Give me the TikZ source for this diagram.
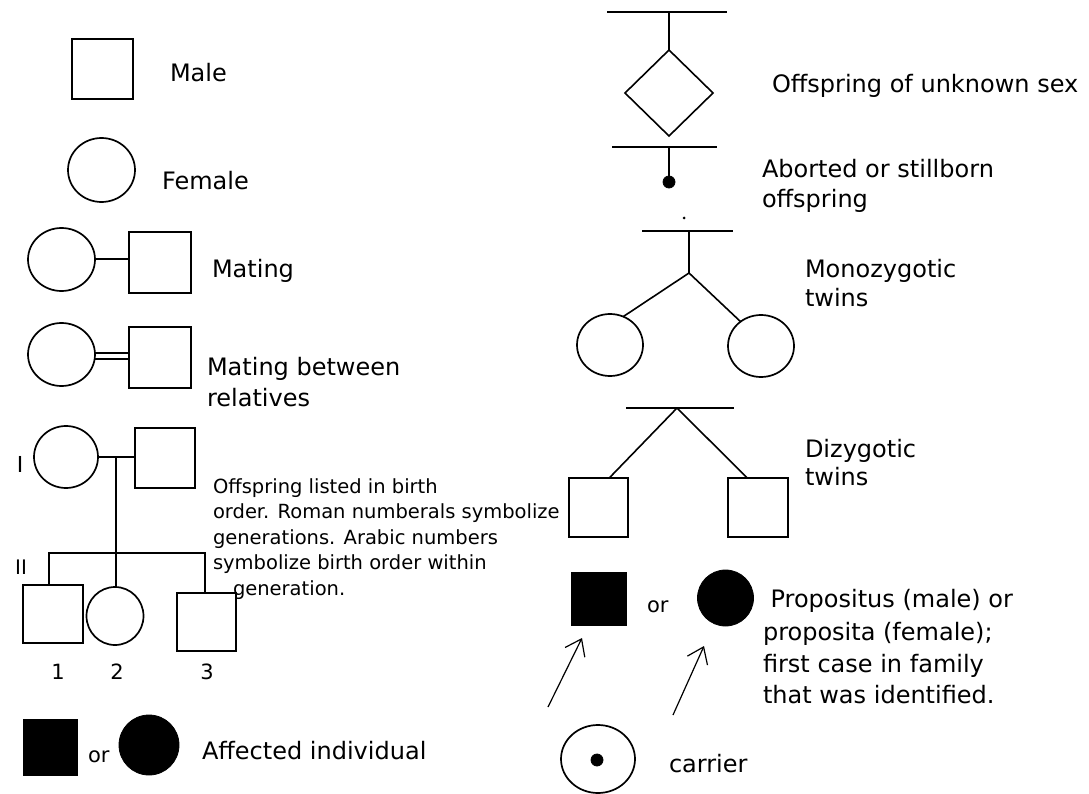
\documentclass[tikz,border=0pt]{standalone}
\usepackage{fontspec}
\setmainfont{DejaVu Sans}
\usetikzlibrary{shapes.geometric,arrows.meta}
\begin{document}
\begin{tikzpicture}[x=1pt,y=-1pt,
  every node/.style={inner sep=0pt,outer sep=0pt},
  ln/.style={line width=2pt,line cap=rect},
  sq/.style={draw,rectangle,line width=2pt},
  ell/.style={draw,ellipse,line width=1.7pt},
  blk/.style={fill=black,draw=black,line width=0.8pt},
  lab/.style={anchor=base west,font=\fontsize{24}{28}\selectfont},
  blab/.style={anchor=base west,font=\fontsize{19.5}{24}\selectfont},
  num/.style={anchor=base,font=\fontsize{21}{24}\selectfont},
  arr/.style={line width=1.2pt,-{Straight Barb[length=15pt,width=22pt,line width=1.2pt]}}]
\fill[white] (0,0) rectangle (1089,794);
\useasboundingbox (0,0) rectangle (1089,794);

% ---------- left column ----------
\node[sq,minimum width=61pt,minimum height=60pt] (male) at (102.5,69) {};
\node[lab] (tmale) at (170,82) {Male};

\node[ell,minimum width=67pt,minimum height=64pt] (female) at (101.5,170) {};
\node[lab] (tfemale) at (162,190) {Female};

\node[ell,minimum width=67pt,minimum height=63pt] (matF) at (61.5,259.5) {};
\node[sq,minimum width=62pt,minimum height=61pt] (matM) at (160,262.5) {};
\draw[ln] (matF.east) -- (matF.east -| matM.west);
\node[lab] (tmating) at (212,277) {Mating};

\node[ell,minimum width=67pt,minimum height=63pt] (relF) at (61.5,354.5) {};
\node[sq,minimum width=62pt,minimum height=61pt] (relM) at (160,357.5) {};
\draw[ln] ([yshift=1.8pt]relF.east) -- ([yshift=1.8pt]relF.east -| relM.west);
\draw[ln] ([yshift=-4.6pt]relF.east) -- ([yshift=-4.6pt]relF.east -| relM.west);
\node[lab] (trel1) at (207,375) {Mating between};
\node[lab] (trel2) at (207,406) {relatives};

% pedigree
\node[anchor=base,font=\fontsize{22}{24}\selectfont] (genI) at (20,472) {I};
\node[anchor=base,font=\fontsize{20}{24}\selectfont] (genII) at (21,574) {II};
\node[ell,minimum width=64pt,minimum height=62pt] (g1F) at (66,457) {};
\node[sq,minimum width=60pt,minimum height=60pt] (g1M) at (165,458) {};
\coordinate (g1mid) at (116,457);
\coordinate (sib) at (116,553);
\coordinate (sibL) at (49,553);
\coordinate (sibR) at (205,553);
\draw[ln] (g1F.east) -- (g1F.east -| g1M.west);
\draw[ln] (g1mid) -- (sib);
\draw[ln] (sibL) -- (sibR);
\node[sq,minimum width=60pt,minimum height=58pt] (c1) at (53,614) {};
\node[ell,minimum width=57pt,minimum height=58pt] (c2) at (115,616) {};
\node[sq,minimum width=59pt,minimum height=58pt] (c3) at (206.5,622) {};
\draw[ln] (sibL) -- (sibL |- c1.north);
\draw[ln] (sib) -- (sib |- c2.north);
\draw[ln] (sibR) -- (sibR |- c3.north);
\node[num] (n1) at (58,679) {1};
\node[num] (n2) at (117,679) {2};
\node[num] (n3) at (207,679) {3};
\node[blab] (b1) at (213,493) {Offspring listed in birth};
\node[blab] (b2) at (213,518.5) {order. Roman numberals symbolize};
\node[blab] (b3) at (213,544) {generations. Arabic numbers};
\node[blab] (b4) at (213,569.5) {symbolize birth order within};
\node[blab] (b5) at (233,595) {generation.};

% affected
\node[sq,blk,minimum width=54pt,minimum height=56pt] (aSq) at (50,747) {};
\node[lab,font=\fontsize{21}{24}\selectfont] (aor) at (88,762) {or};
\node[circle,blk,minimum size=60pt] (aCirc) at (149,745) {};
\node[lab] (taff) at (202,759) {Affected individual};

% ---------- right column ----------
\coordinate (u1) at (608,12);
\coordinate (u2) at (726,12);
\coordinate (umid) at (669,12);
\draw[ln] (u1) -- (u2);
\node[draw,diamond,line width=1.6pt,minimum width=88pt,minimum height=86pt] (dia) at (669,93) {};
\draw[ln] (umid) -- (dia.north);
\node[lab] (tdia) at (772,93) {Offspring of unknown sex};

\coordinate (ab1) at (613,147);
\coordinate (ab2) at (716,147);
\coordinate (abmid) at (669,147);
\draw[ln] (ab1) -- (ab2);
\node[circle,blk,minimum size=12pt] (abdot) at (669,182) {};
\draw[ln] (abmid) -- (abdot.north);
\node[lab] (tab1) at (762,178) {Aborted or stillborn};
\node[lab] (tab2) at (762,208) {offspring};
\node[circle,fill=black,minimum size=3pt] (speck) at (684,218) {};

% monozygotic
\coordinate (m1) at (643,231);
\coordinate (m2) at (732,231);
\coordinate (mmid) at (689,231);
\coordinate (mfork) at (689,273);
\draw[ln] (m1) -- (m2);
\draw[ln] (mmid) -- (mfork);
\node[ell,minimum width=66pt,minimum height=62pt] (mz1) at (610,345) {};
\node[ell,minimum width=66pt,minimum height=62pt] (mz2) at (761,346) {};
\draw[line width=1.6pt] (mfork) -- (mz1.65);
\draw[line width=1.6pt] (mfork) -- (mz2.130);
\node[lab] (tmz1) at (805,277) {Monozygotic};
\node[lab] (tmz2) at (805,306) {twins};

% dizygotic
\coordinate (d1) at (627,408);
\coordinate (d2) at (733,408);
\coordinate (dapex) at (677,408);
\draw[ln] (d1) -- (d2);
\node[sq,minimum width=59pt,minimum height=59pt] (dz1) at (598.5,507.5) {};
\node[sq,minimum width=60pt,minimum height=59pt] (dz2) at (758,507.5) {};
\draw[line width=1.6pt] (dapex) -- (dz1.70);
\draw[line width=1.6pt] (dapex) -- (dz2.110);
\node[lab] (tdz1) at (805,457) {Dizygotic};
\node[lab] (tdz2) at (805,485) {twins};

% propositus
\node[sq,blk,minimum width=55pt,minimum height=53pt] (pSq) at (598.5,598.5) {};
\node[lab,font=\fontsize{21}{24}\selectfont] (por) at (647,612) {or};
\node[circle,blk,minimum size=56pt] (pCirc) at (725.5,598) {};
\coordinate (ar1s) at (548,707);
\coordinate (ar1t) at (582,638);
\coordinate (ar2s) at (673,715);
\coordinate (ar2t) at (704,646);
\draw[arr] (ar1s) -- (ar1t);
\draw[arr] (ar2s) -- (ar2t);
\node[lab] (tp1) at (763,607) {\ Propositus (male) or};
\node[lab] (tp2) at (763,640) {proposita (female);};
\node[lab] (tp3) at (763,672) {first case in family};
\node[lab] (tp4) at (763,703) {that was identified.};

% carrier
\node[ell,minimum width=74pt,minimum height=68pt] (cC) at (598,759) {};
\node[circle,blk,minimum size=12pt] (cDot) at (597,760) {};
\node[lab] (tcar) at (669,772) {carrier};
\end{tikzpicture}
\end{document}
